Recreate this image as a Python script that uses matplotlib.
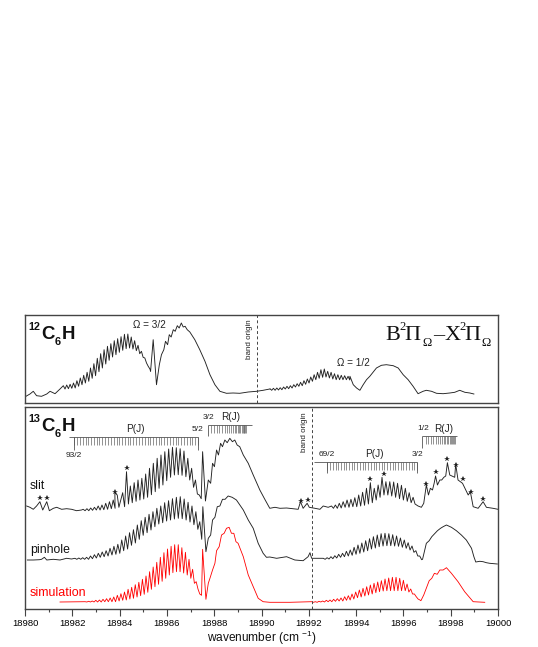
import numpy as np
import matplotlib
matplotlib.use('Agg')
import matplotlib.pyplot as plt

plt.rcParams['font.family'] = ['Liberation Sans', 'DejaVu Sans']
plt.rcParams['mathtext.fontset'] = 'custom'
plt.rcParams['mathtext.rm'] = 'Liberation Sans'

wn0 = 18980

# top panel, 12C6H (x = wavenumber - 18980)
top_a_x = [0.04, 0.21, 0.35, 0.49, 0.70, 0.92, 1.06, 1.27, 1.48]
top_a_y = [6.7, 9, 11.7, 7.3, 6.7, 9, 11.7, 9.3, 14]
top_b_range = (1.62, 5.21)
top_b_hi = [17.3, 18, 18.7, 20, 22.3, 25, 27.7, 30.7, 35, 39.3, 44.7, 49.3, 53.3, 56.7, 59.3, 62.3, 64.3, 66.3, 68.7, 69, 66, 62.3, 57.7, 51.7, 45, 36.7]
top_b_lo = [14, 14.3, 14.7, 15, 16.7, 18.3, 20, 21.7, 24.7, 27.3, 31.3, 35, 39, 42.7, 46, 48.3, 50.7, 52.7, 54.3, 55, 54, 52.3, 49.3, 45.7, 40, 34]
top_c_x = [5.31, 5.42, 5.56, 5.68, 5.77, 5.87, 5.94, 6.03, 6.10, 6.18, 6.27, 6.35, 6.44, 6.52, 6.61, 6.69, 6.77, 6.86, 6.97, 7.18, 7.39, 7.61, 7.82, 8.03, 8.24, 8.52, 8.80, 9.08, 9.44, 9.79, 10.07, 10.35]
top_c_y = [31.7, 63.3, 18.3, 38.3, 48.3, 53.3, 61.7, 58.3, 68.3, 66, 73.3, 71.7, 77.3, 75, 80, 76, 76.7, 73.3, 71, 63.3, 53.3, 41.7, 28.3, 18.3, 11.7, 9.7, 10, 9.7, 11, 11.7, 12.7, 14]
top_d_range = (10.36, 13.66)
top_d_hi = [14.3, 14.7, 15, 15.3, 16, 16.7, 17.3, 18.3, 19.3, 20.7, 22.3, 24, 26, 28.3, 30.7, 33.3, 34, 31.7, 30.7, 29.3, 28.3, 27.7, 27.3, 26.7]
top_d_lo = [12.7, 12.7, 13, 13.3, 14, 14.3, 15, 16, 16.7, 17.3, 18.7, 20, 21.7, 23.3, 24.7, 25.7, 26, 25, 24, 23.3, 23.3, 23.3, 23.3, 23]
top_e_x = [13.74, 13.88, 14.02, 14.16, 14.30, 14.44, 14.58, 14.86, 15.07, 15.28, 15.57, 15.78, 15.99, 16.20, 16.41, 16.62, 16.83, 16.97, 17.19, 17.40, 17.68, 17.96, 18.17, 18.38, 18.60, 18.81, 18.98]
top_e_y = [26.7, 18.3, 15, 12.7, 18.3, 23.3, 26.7, 35, 37.7, 38.3, 37.3, 35, 28.3, 23.3, 16.7, 9.3, 11.7, 12.7, 11.7, 9.7, 9.3, 10, 10.7, 12.7, 10.7, 10, 9]

# bottom panel, slit
slit_a_x = [0.07, 0.21, 0.35, 0.49, 0.63, 0.75, 0.92, 1.03, 1.20, 1.34, 1.55, 1.76, 1.97, 2.18, 2.39]
slit_a_y = [103, 101.7, 99.7, 103, 107.3, 99, 107.3, 98.3, 100.7, 101.7, 99.7, 100.3, 99.7, 98.3, 99]
slit_b_range = (2.46, 3.73)
slit_b_hi = [99.7, 100.3, 101, 101.7, 103, 104, 105.7, 107.3, 109]
slit_b_lo = [98.3, 98.3, 98.7, 99, 99, 99.3, 99.7, 100.3, 100.7]
slit_c_x = [3.80, 3.90, 3.97]
slit_c_y = [116.3, 114, 101.7]
slit_d_range = (4.13, 7.37)
slit_d_hi = [116.3, 137.3, 123, 126.3, 129, 130.7, 135, 140.7, 145.7, 150.7, 154, 157.3, 160, 161.7, 161.3, 160.3, 158, 150.7, 140.7, 129, 114]
slit_d_lo = [102.3, 105, 106.3, 107.7, 109, 110, 111.7, 114.3, 117.3, 120.7, 124, 128.3, 131.7, 134, 134.3, 133.7, 132.3, 129, 121.7, 115, 110.3]
slit_e_x = [7.51, 7.63, 7.75, 7.85, 7.93, 8.01, 8.10, 8.18, 8.27, 8.35, 8.45, 8.55, 8.66, 8.77, 8.87, 8.97, 9.08, 9.23, 9.44, 9.65, 9.93, 10.14, 10.35, 10.57, 10.78, 11.06, 11.34, 11.55, 11.65, 11.76, 11.93, 12.02, 12.26, 12.47, 12.61, 12.82]
slit_e_y = [157.3, 108, 129, 125.7, 145.7, 142.3, 159, 154, 165.7, 162.3, 169, 166.3, 170.7, 167.3, 169, 164, 162.3, 154, 145.7, 134, 119, 109.7, 100.7, 101.7, 100.7, 101, 100.3, 99.7, 107.3, 100.7, 105.7, 101.7, 100.7, 99.7, 103, 101.7]
slit_f_range = (12.96, 16.41)
slit_f_hi = [103, 104, 105.7, 107.3, 109, 109.7, 111.3, 114, 116.7, 120.7, 126.3, 120.7, 124, 131.7, 127.3, 127.3, 127, 125.7, 123.7, 120.7, 116.3, 111.7]
slit_f_lo = [100.7, 100.7, 101, 101.7, 101.7, 102.3, 102.3, 103, 103.7, 105, 106.3, 109, 111.7, 114, 114, 113, 111.7, 110.3, 109, 107.7, 106.3, 105]
slit_g_x = [16.62, 16.76, 16.86, 16.97, 17.06, 17.14, 17.23, 17.30, 17.36, 17.44, 17.54, 17.62, 17.71, 17.79, 17.86, 17.96, 18.17, 18.21, 18.31, 18.50, 18.74, 18.83, 18.95, 19.16, 19.37, 19.51, 19.79, 20.0]
slit_g_y = [103, 101.7, 105.7, 124, 114, 120.7, 119, 125.7, 133, 124, 129, 129, 131.7, 133, 146.3, 134, 131.7, 145, 129, 125.7, 114, 117.3, 102.3, 100.7, 107.3, 101.7, 100.7, 99.7]
star_x = [0.63, 0.94, 3.82, 4.31, 11.65, 11.95, 14.58, 15.17, 16.97, 17.36, 17.86, 18.21, 18.50, 18.85, 19.36]
star_y = [111.3, 111.3, 117.3, 141.3, 108, 109, 129.7, 135, 124.7, 137, 150, 144.3, 130.3, 117.3, 110]

# bottom panel, pinhole
pin_a_x = [0.10, 0.35, 0.61, 0.70, 0.82, 0.92, 1.20, 1.48, 1.76, 1.97]
pin_a_y = [49, 49, 49.3, 49.7, 51.7, 49, 49.7, 49, 50.7, 50]
pin_b_range = (2.11, 7.39)
pin_b_hi = [50.7, 51, 51.3, 51.7, 53, 54.3, 55.7, 57, 58.3, 60.7, 62.7, 64.7, 69, 73, 76.3, 79.3, 84, 88.3, 91.7, 94.7, 97.3, 100.7, 103, 106.3, 108.3, 110.3, 111.7, 112.3, 110, 106.7, 103, 97.3, 87.3]
pin_b_lo = [49.7, 49.7, 49.7, 49.7, 50.3, 51, 51.7, 52.3, 53, 54, 54.7, 55.7, 58.3, 60, 63.7, 66, 69.7, 73.7, 76.3, 79, 82.3, 85, 86.3, 88, 89, 90, 90.7, 90.3, 89, 87, 84.3, 79.7, 69.7]
pin_c_x = [7.52, 7.65, 7.75, 7.85, 7.93, 8.03, 8.13, 8.24, 8.35, 8.46, 8.59, 8.76, 8.94, 9.23, 9.44, 9.65, 9.86, 10.07, 10.21, 10.35, 10.64, 11.06, 11.41, 11.76, 11.97, 12.05, 12.12, 12.47]
pin_c_y = [102.3, 57.3, 70.7, 74, 89, 91.7, 102.3, 103, 109.7, 109.7, 113, 111.7, 109, 99, 89, 80.7, 65.7, 55.7, 51.7, 52, 50.7, 52.3, 49, 48.3, 52.3, 56.3, 50.7, 50.7]
pin_d_range = (12.61, 16.69)
pin_d_hi = [50.7, 51.3, 52.3, 53.3, 54.7, 55.7, 57.7, 59, 61.7, 64, 66, 68.3, 70.3, 72.3, 74, 75.3, 75.7, 75.3, 74.3, 73, 71, 69, 66.3, 63, 58.3, 53]
pin_d_lo = [49.7, 50, 50.3, 51, 51.7, 52.3, 53, 53.7, 54.7, 55.7, 57, 58.3, 60, 61, 62.3, 63, 63.3, 63.3, 63, 62.7, 61.7, 60.7, 59, 56.7, 53, 49.3]
pin_e_x = [16.81, 16.97, 17.09, 17.20, 17.31, 17.44, 17.57, 17.68, 17.82, 18.03, 18.24, 18.45, 18.66, 18.88, 18.98, 19.06, 19.23, 19.37, 19.51, 19.65, 19.97]
pin_e_y = [49.7, 65.7, 68.3, 72.3, 75, 78.3, 80.7, 82.3, 84, 81.7, 78.3, 74, 69, 60.7, 52.3, 47, 47.7, 47.3, 46.3, 45.7, 45]

# bottom panel, simulation
sim_a_x = [1.48, 2.46]
sim_a_y = [7, 7.3]
sim_b_range = (2.54, 7.39)
sim_b_hi = [7.3, 7.7, 8, 8.7, 9, 9.7, 10.3, 11, 12, 13.7, 15.3, 17, 19.7, 21.7, 24.3, 26.7, 29.7, 33, 37.3, 42, 46.7, 51.7, 56.3, 60, 62.7, 64.3, 64.3, 61.3, 56.7, 49.7, 39.7, 27.3, 15]
sim_b_lo = [7, 7, 7, 7, 7, 7.3, 7.3, 7.3, 7.3, 8, 8.7, 9, 10, 10.7, 12, 13.3, 14.7, 16.7, 19.7, 22.3, 24.7, 27.7, 30.7, 34, 36.3, 37.3, 37.3, 36, 34, 30.7, 25.7, 20, 13.7]
sim_c_x = [7.51, 7.65, 7.75, 7.82, 7.93, 8.03, 8.10, 8.21, 8.31, 8.42, 8.52, 8.63, 8.73, 8.83, 8.92, 9.01, 9.23, 9.44, 9.65, 9.86, 10.07, 10.35, 11.2, 12.05]
sim_c_y = [59.7, 9.7, 25.7, 30.7, 39, 45.7, 58.3, 62.3, 74, 75.7, 80.7, 81.7, 75.7, 75.7, 67.3, 65.7, 52.3, 34, 22.3, 10.7, 7.3, 6.7, 6.7, 7.3]
sim_d_range = (12.12, 16.62)
sim_d_hi = [7.3, 7.3, 7.7, 8, 8.7, 9, 9.7, 10.3, 11, 12.3, 13.3, 15, 17, 19, 20.7, 22.3, 24, 25.7, 27, 28.3, 30, 31, 31.7, 31.7, 30.7, 28.7, 25, 20, 15, 10]
sim_d_lo = [6.7, 6.7, 7, 7, 7.3, 7.3, 7.7, 8, 8, 8.7, 9, 10, 11.3, 12, 13, 14, 15, 16.3, 17.3, 18, 18.3, 18.3, 18.3, 18.3, 18.3, 18.3, 17, 15, 12.3, 9]
sim_e_x = [16.74, 16.86, 16.97, 17.09, 17.2, 17.31, 17.43, 17.54, 17.68, 17.82, 18.03, 18.31, 18.59, 18.95, 19.44]
sim_e_y = [8.3, 14, 20.7, 28.3, 30.7, 35.7, 34.7, 39, 39, 41.3, 35.7, 27.3, 17.3, 7.3, 6.7]

# line assignments
p_left = [2.08, 2.20, 2.32, 2.44, 2.56, 2.68, 2.79, 2.91, 3.03, 3.15, 3.27, 3.39, 3.51, 3.63, 3.75, 3.87, 3.99, 4.10, 4.22, 4.34, 4.46, 4.58, 4.70, 4.82, 4.94, 5.06, 5.18, 5.30, 5.42, 5.53, 5.65, 5.77, 5.89, 6.01, 6.13, 6.25, 6.37, 6.49, 6.61, 6.73, 6.85, 6.96, 7.08, 7.20, 7.32]
r_left = [7.85, 7.98, 8.10, 8.22, 8.33, 8.44, 8.54, 8.63, 8.72, 8.80, 8.87, 8.94, 9.0, 9.06, 9.11, 9.16, 9.2, 9.24, 9.28, 9.31, 9.34]
p_right = [12.78, 12.90, 13.01, 13.13, 13.24, 13.36, 13.47, 13.59, 13.70, 13.82, 13.93, 14.05, 14.16, 14.28, 14.39, 14.51, 14.62, 14.74, 14.85, 14.97, 15.08, 15.20, 15.31, 15.43, 15.54, 15.66, 15.77, 15.89, 16.00, 16.12, 16.23, 16.35, 16.46, 16.58]
r_right = [16.95, 17.06, 17.17, 17.27, 17.37, 17.46, 17.55, 17.63, 17.7, 17.77, 17.83, 17.89, 17.95, 18.0, 18.05, 18.09, 18.13, 18.17]


def comb(rng, hi, lo):
    # zigzag, one trough after each peak
    xs = np.linspace(rng[0], rng[1], len(hi))
    step = (rng[1] - rng[0]) / (len(hi) - 1)
    x = np.ravel(np.column_stack([xs, xs + step / 2]))
    y = np.ravel(np.column_stack([hi, lo]))
    return x, y


def trace(*parts):
    x = np.concatenate([p[0] for p in parts]) + wn0
    y = np.concatenate([p[1] for p in parts])
    return x, y


def ladder(ax, pos, top, bottom, start, end, long_pos, long_bottom):
    ax.vlines(np.array(pos) + wn0, bottom, top, color='#666666', lw=0.5)
    ax.hlines(top, start + wn0, end + wn0, color='#555555', lw=0.6)
    ax.vlines(np.array(long_pos) + wn0, long_bottom, top, color='#555555', lw=0.6)


fig = plt.figure(figsize=(5.38, 6.47), dpi=100)
W, H = 538.0, 647.0
ax1 = fig.add_axes([25 / W, 1 - 403 / H, 473 / W, 88 / H])
ax2 = fig.add_axes([25 / W, 1 - 609 / H, 473 / W, 202 / H])

for ax, h in ((ax1, 88), (ax2, 202)):
    ax.set_xlim(18980, 19000)
    ax.set_ylim(0, h)
    ax.set_yticks([])
    for s in ax.spines.values():
        s.set_color('#444444')
        s.set_linewidth(1.0)

ax1.set_xticks([])
ax2.set_xticks(np.arange(18980, 19001, 2))
ax2.set_xticks(np.arange(18981, 19000, 2), minor=True)
ax2.ticklabel_format(useOffset=False, style='plain', axis='x')
ax2.tick_params(axis='x', which='major', length=5, width=0.8, color='#444444', labelsize=6.8, pad=2.5)
ax2.tick_params(axis='x', which='minor', length=2.5, width=0.8, color='#444444')
ax2.set_xlabel(r'wavenumber (cm $^{-1}$)', fontsize=8.6, labelpad=0.3, color='#111111')

tx, ty = trace((top_a_x, top_a_y), comb(top_b_range, top_b_hi, top_b_lo), (top_c_x, top_c_y),
               comb(top_d_range, top_d_hi, top_d_lo), (top_e_x, top_e_y))
ax1.plot(tx, ty, color='#222222', lw=0.65)

sx, sy = trace((slit_a_x, slit_a_y), comb(slit_b_range, slit_b_hi, slit_b_lo), (slit_c_x, slit_c_y),
               comb(slit_d_range, slit_d_hi, slit_d_lo), (slit_e_x, slit_e_y),
               comb(slit_f_range, slit_f_hi, slit_f_lo), (slit_g_x, slit_g_y))
ax2.plot(sx, sy, color='#222222', lw=0.65)

px, py = trace((pin_a_x, pin_a_y), comb(pin_b_range, pin_b_hi, pin_b_lo), (pin_c_x, pin_c_y),
               comb(pin_d_range, pin_d_hi, pin_d_lo), (pin_e_x, pin_e_y))
ax2.plot(px, py, color='#222222', lw=0.65)

rx, ry = trace((sim_a_x, sim_a_y), comb(sim_b_range, sim_b_hi, sim_b_lo), (sim_c_x, sim_c_y),
               comb(sim_d_range, sim_d_hi, sim_d_lo), (sim_e_x, sim_e_y))
ax2.plot(rx, ry, color='#ff0000', lw=0.6)

ax2.plot(np.array(star_x) + wn0, np.array(star_y), ls='none', marker='*', ms=4.2, color='#222222', mew=0)

ax1.axvline(wn0 + 9.79, color='#444444', lw=0.7, ls=(0, (3, 2.5)))
ax2.axvline(wn0 + 12.12, color='#444444', lw=0.7, ls=(0, (3, 2.5)))

ladder(ax2, p_left, 171.7, 164, 1.87, 7.32, [2.08, 7.32], 159.5)
ladder(ax2, r_left, 184, 176.3, 7.75, 9.58, [7.75], 173)
ladder(ax2, p_right, 146.7, 139, 12.21, 16.58, [12.78, 16.58], 136.5)
ladder(ax2, r_right, 173, 165, 16.8, 18.28, [16.8], 161.3)

grey = '#222222'
small = dict(ha='center', va='center', fontsize=5.8, color=grey)
label = dict(ha='center', va='center', fontsize=7.2, color=grey)
frac = dict(ha='center', va='center', fontsize=6, color=grey)


def put(ax, x, y, s, **kw):
    ax.text(wn0 + x, y, s, **kw)


def isotope(ax, mass, base):
    bold = dict(ha='left', va='baseline', fontweight='bold', color='#111111')
    put(ax, 0.13, base + 9.5, mass, fontsize=7.8, **bold)
    put(ax, 0.70, base, 'C', fontsize=13.4, **bold)
    put(ax, 1.27, base - 6, '6', fontsize=7.8, **bold)
    put(ax, 1.55, base, 'H', fontsize=13.4, **bold)


put(ax1, 5.25, 78.3, '\u03a9 = 3/2', **label)
put(ax1, 13.88, 40, '\u03a9 = 1/2', **label)
put(ax1, 9.48, 64, 'band origin', rotation=90, **small)
isotope(ax1, '12', 64)

# B2Pi-X2Pi term symbol, piece by piece so that it stays as tight as in the picture
serif = dict(ha='left', va='baseline', family='Liberation Serif', color='#111111')
put(ax1, 15.22, 63.3, 'B', fontsize=16, **serif)
put(ax1, 15.83, 73, '2', fontsize=9, **serif)
put(ax1, 16.06, 63.3, '\u03a0', fontsize=16, **serif)
put(ax1, 16.81, 57, '\u03a9', fontsize=9, **serif)
put(ax1, 17.25, 63.3, '\u2013', fontsize=16, **serif)
put(ax1, 17.73, 63.3, 'X', fontsize=16, **serif)
put(ax1, 18.36, 73, '2', fontsize=9, **serif)
put(ax1, 18.56, 63.3, '\u03a0', fontsize=16, **serif)
put(ax1, 19.30, 57, '\u03a9', fontsize=9, **serif)

isotope(ax2, '13', 178)
put(ax2, 11.8, 176.7, 'band origin', rotation=90, **small)
put(ax2, 4.65, 179.7, 'P(J)', **label)
put(ax2, 2.08, 153.3, '93/2', **frac)
put(ax2, 7.28, 179.7, '5/2', **frac)
put(ax2, 7.75, 191.7, '3/2', **frac)
put(ax2, 8.69, 191.7, 'R(J)', **label)
put(ax2, 12.78, 155, '69/2', **frac)
put(ax2, 14.76, 155, 'P(J)', **label)
put(ax2, 16.58, 155, '3/2', **frac)
put(ax2, 16.83, 180.3, '1/2', **frac)
put(ax2, 17.71, 180.3, 'R(J)', **label)
put(ax2, 0.21, 123, 'slit', ha='left', va='center', fontsize=8.8, color='#111111')
put(ax2, 0.21, 59, 'pinhole', ha='left', va='center', fontsize=8.8, color='#111111')
put(ax2, 0.21, 16.3, 'simulation', ha='left', va='center', fontsize=9, color='#ff0000')

fig.savefig('out.png', dpi=100)
